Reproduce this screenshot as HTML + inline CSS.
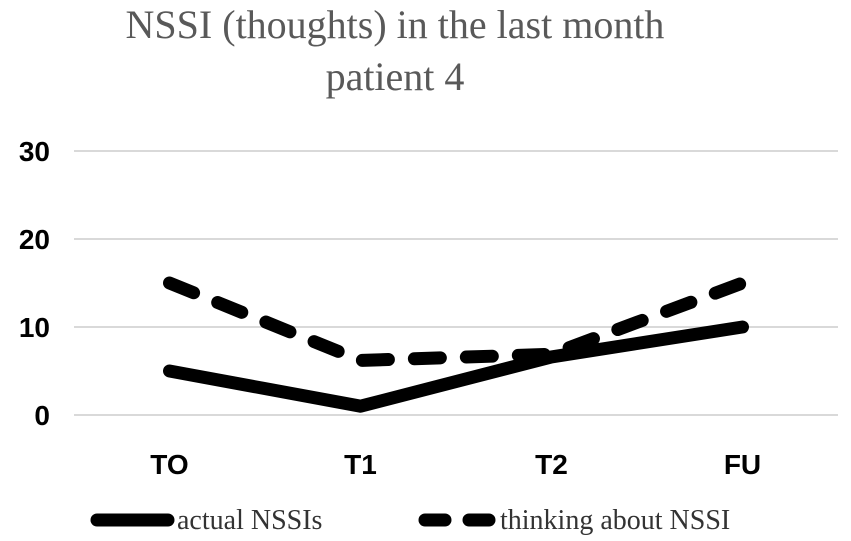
<!DOCTYPE html>
<html><head><meta charset="utf-8"><style>
body{margin:0;background:#fff}
svg{display:block}
.t{font-family:"Liberation Serif",serif;fill:#595959;font-size:40px}
.ax{font-family:"Liberation Sans",sans-serif;font-weight:bold;font-size:28px;fill:#000}
.lg{font-family:"Liberation Serif",serif;font-size:28px;fill:#333}
</style></head><body>
<svg id="c" width="851" height="541">
<text class="t" x="395" y="38" text-anchor="middle">NSSI (thoughts) in the last month</text>
<text class="t" x="395" y="90" text-anchor="middle">patient 4</text>
<g id="grid"></g><g id="lines"></g>
<line x1="97" y1="520" x2="168" y2="520" stroke="#000" stroke-width="13" stroke-linecap="round"/>
<text class="lg" x="177" y="529">actual NSSIs</text>
<line x1="425" y1="520" x2="492" y2="520" stroke="#000" stroke-width="13" stroke-linecap="round" stroke-dasharray="20 24"/>
<text class="lg" x="500" y="529">thinking about NSSI</text>
</svg>
<script>
const categories=["TO","T1","T2","FU"];
const yTicks=[0,10,20,30];
const actual=[5,1,6.6,10];
const thinking=[15,6.2,6.9,15];
const NS="http://www.w3.org/2000/svg";
const x=i=>74+191*(i+0.5);
const y=v=>415-v*8.8;
const g=document.getElementById('grid'),L=document.getElementById('lines');
function mk(tag,at,par){const e=document.createElementNS(NS,tag);for(const k in at)e.setAttribute(k,at[k]);par.appendChild(e);return e;}
yTicks.forEach(t=>{
 const l=mk('line',{x1:74,x2:838,y1:y(t),y2:y(t),stroke:'#d9d9d9','stroke-width':2},g);
 
 
 const tx=mk('text',{x:50,y:y(t)+10,'text-anchor':'end',class:'ax'},g);tx.textContent=t;
 
 
});
categories.forEach((c,i)=>{
 const tx=mk('text',{x:x(i),y:474,'text-anchor':'middle',class:'ax'},g);tx.textContent=c;
 
 
});
const pts=a=>a.map((v,i)=>x(i)+','+y(v)).join(' ');
const p1=mk('polyline',{points:pts(thinking),fill:'none',stroke:'#000','stroke-width':13,'stroke-linecap':'round','stroke-linejoin':'round','stroke-dasharray':'26 26'},L);


const p2=mk('polyline',{points:pts(actual),fill:'none',stroke:'#000','stroke-width':13,'stroke-linecap':'round','stroke-linejoin':'round'},L);


</script>
</body></html>
